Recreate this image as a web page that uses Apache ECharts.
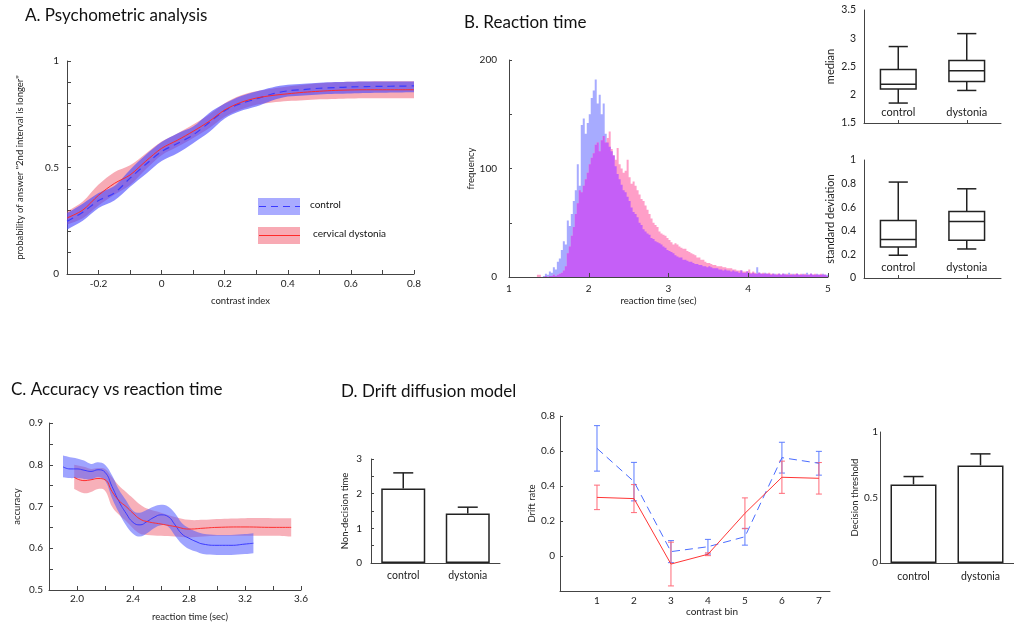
<!DOCTYPE html>
<html><head><meta charset="utf-8">
<script src="https://cdn.jsdelivr.net/npm/echarts@6/dist/echarts.min.js"></script>
<style>html,body{margin:0;padding:0;background:#fff}#c{width:1014px;height:626px}</style>
</head><body><div id="c"></div>
<script>
// ---------- Panel A: psychometric analysis ----------
const psyContrast = [-0.3,-0.25,-0.2,-0.15,-0.1,-0.05,0,0.05,0.1,0.15,0.2,0.25,0.3,0.35,0.4,0.45,0.5,0.55,0.6,0.65,0.7,0.75,0.8];
const psyDystMean = [0.263,0.30,0.37,0.425,0.465,0.53,0.59,0.628,0.67,0.716,0.77,0.805,0.826,0.838,0.846,0.853,0.858,0.862,0.864,0.865,0.865,0.865,0.865];
const psyDystLo   = [0.232,0.262,0.322,0.372,0.418,0.492,0.558,0.597,0.638,0.684,0.738,0.772,0.795,0.805,0.812,0.816,0.82,0.822,0.824,0.825,0.825,0.825,0.825];
const psyDystHi   = [0.292,0.34,0.42,0.478,0.51,0.566,0.622,0.66,0.702,0.748,0.802,0.838,0.858,0.87,0.88,0.888,0.895,0.9,0.903,0.904,0.905,0.905,0.905];
const psyCtrlMean = [0.247,0.29,0.345,0.38,0.45,0.515,0.575,0.613,0.653,0.71,0.767,0.80,0.822,0.845,0.86,0.866,0.872,0.875,0.878,0.88,0.881,0.882,0.883];
const psyCtrlLo   = [0.208,0.25,0.31,0.345,0.41,0.47,0.53,0.567,0.614,0.665,0.73,0.765,0.786,0.815,0.833,0.838,0.843,0.846,0.848,0.85,0.851,0.852,0.853];
const psyCtrlHi   = [0.286,0.33,0.38,0.413,0.49,0.56,0.62,0.66,0.692,0.755,0.80,0.835,0.857,0.876,0.888,0.893,0.898,0.901,0.903,0.904,0.904,0.904,0.904];

// ---------- Panel B: reaction time histogram (bins of 0.025 s from 1.3 s) ----------
const rtBinStart = 1.3;
const rtBinWidth = 0.025;
const rtControl = [0,0,0,0,0,1,3,2,5,4, 9,7,14,17,25,33,30,52,47,58, 70,80,104,84,140,146,132,142,150,165,
  172,182,160,168,150,160,132,124,120,116, 112,102,95,90,85,80,78,74,70,64, 60,58,55,50,48,44,42,40,39,36,
  35,33,32,31,30,28,27,25,24,23, 22,20,19,18,18,16,16,15,14,14, 13,12,12,11,11,10,10,9,10,9,
  8,8,8,7,7,6,7,6,6,5, 6,5,5,4,6,4,4,5,4,3, 4,3,9,4,3,3,4,3,3,2, 3,3,2,3,2,3,3,2,4,2, 3,2,3,2,2,3,2,4,2,3, 2,2,3,2,2,3,2,2];
const rtDystonia = [0,0,2,2,0,0,1,0,1,1, 2,1,2,3,4,6,10,22,28,38, 46,58,68,80,78,84,90,96,104,110,
  114,122,124,116,126,130,124,128,134,118, 112,108,119,104,100,96,98,108,92,86, 88,84,80,76,72,70,66,62,58,54,
  50,48,46,42,40,39,38,36,34,32, 30,31,30,28,27,26,26,24,23,22, 21,20,18,18,16,16,14,13,13,12,
  11,11,10,10,10,9,9,8,8,8, 7,7,6,6,6,5,5,5,7,4, 5,4,3,4,3,4,3,3,4,3, 3,2,3,3,2,3,2,3,2,3, 2,3,3,2,3,2,3,2,2,3, 2,3,2,2,3,2,2,1];

// box plots: [lower whisker, Q1, median, Q3, upper whisker]
const boxGroups = ['control','dystonia'];
const medianCtrl = [1.853, 2.10, 2.188, 2.447, 2.853];
const medianDyst = [2.076, 2.235, 2.424, 2.606, 3.082];
const sdCtrl = [0.193, 0.263, 0.326, 0.487, 0.813];
const sdDyst = [0.246, 0.32, 0.479, 0.564, 0.756];

// ---------- Panel C: accuracy vs reaction time ----------
const accCtrlRT  = [1.90,1.95,2.00,2.05,2.10,2.15,2.20,2.25,2.30,2.35,2.40,2.45,2.50,2.55,2.60,2.65,2.70,2.75,2.80,2.85,2.90,3.00,3.10,3.20,3.26];
const accCtrl    = [0.795,0.79,0.79,0.787,0.784,0.788,0.782,0.748,0.712,0.684,0.662,0.656,0.664,0.674,0.680,0.676,0.656,0.634,0.624,0.616,0.610,0.607,0.607,0.610,0.612];
const accCtrlLo  = [0.77,0.768,0.768,0.766,0.765,0.77,0.762,0.72,0.685,0.655,0.635,0.628,0.636,0.648,0.655,0.652,0.63,0.61,0.598,0.592,0.586,0.584,0.584,0.586,0.588];
const accCtrlHi  = [0.822,0.818,0.815,0.81,0.802,0.806,0.80,0.775,0.74,0.715,0.69,0.685,0.692,0.70,0.704,0.70,0.684,0.66,0.648,0.64,0.635,0.632,0.632,0.634,0.636];
const accDystRT  = [1.98,2.05,2.10,2.15,2.20,2.25,2.30,2.35,2.40,2.45,2.50,2.60,2.70,2.80,2.90,3.00,3.20,3.40,3.53];
const accDyst    = [0.77,0.762,0.764,0.767,0.764,0.736,0.714,0.70,0.684,0.67,0.664,0.658,0.652,0.646,0.648,0.650,0.651,0.650,0.650];
const accDystLo  = [0.742,0.732,0.735,0.742,0.738,0.70,0.68,0.665,0.648,0.635,0.632,0.63,0.628,0.626,0.628,0.63,0.63,0.63,0.628];
const accDystHi  = [0.80,0.795,0.79,0.792,0.79,0.77,0.75,0.735,0.72,0.705,0.695,0.685,0.675,0.668,0.668,0.670,0.672,0.672,0.672];

// ---------- Panel D: drift diffusion model ----------
const ddmGroups = ['control','dystonia'];
const nonDecision = [2.15, 1.43];
const nonDecisionErr = [0.45, 0.18];
const threshold = [0.60, 0.745];
const thresholdErr = [0.06, 0.088];
const contrastBins = [1,2,3,4,5,6,7];
const driftCtrl = [0.615,0.425,0.025,0.053,0.11,0.562,0.53];
const driftCtrlErr = [0.13,0.11,0.063,0.042,0.048,0.088,0.068];
const driftDyst = [0.335,0.328,-0.046,0.01,0.244,0.45,0.444];
const driftDystErr = [0.07,0.08,0.125,0.008,0.088,0.092,0.09];

// ================= rendering =================
const FONT = 'Lato, "Open Sans", sans-serif';
const AX = '#444';
const pairs = (xs, ys) => xs.map((x, i) => [x, ys[i]]);

function axLine(){ return {show:true, onZero:false, lineStyle:{color:AX, width:1}}; }
function axTick(len, show){ return {show: show !== false, inside:true, length:len, lineStyle:{color:AX}}; }
function axLabel(extra){ return Object.assign({color:'#222', fontSize:10, fontFamily:FONT}, extra || {}); }
function nameStyle(extra){ return Object.assign({color:'#222', fontSize:9.5, fontFamily:FONT}, extra || {}); }

function bandRender(xs, lo, hi, color, smooth){
  return function(params, api){
    const top = xs.map((x, i) => api.coord([x, hi[i]]));
    const bot = xs.map((x, i) => api.coord([x, lo[i]]));
    const n = xs.length;
    const pts = [top[0]].concat(top, [top[n-1], bot[n-1]], bot.slice().reverse(), [bot[0]]);
    return {type:'polygon', shape:{points:pts, smooth:smooth}, style:{fill:color}};
  };
}
function bandSeries(xi, xs, lo, hi, color, smooth){
  return {type:'custom', xAxisIndex:xi, yAxisIndex:xi, data:[[xs[0], lo[0]]], renderItem:bandRender(xs, lo, hi, color, smooth),
          silent:true, clip:true};
}

function histRender(values, color){
  return function(params, api){
    const pts = [api.coord([rtBinStart, 0])];
    values.forEach((v, i) => {
      const x0 = rtBinStart + i * rtBinWidth;
      pts.push(api.coord([x0, v]));
      pts.push(api.coord([x0 + rtBinWidth, v]));
    });
    pts.push(api.coord([rtBinStart + values.length * rtBinWidth, 0]));
    return {type:'polygon', shape:{points:pts}, style:{fill:color}};
  };
}

function boxRender(params, api){
  const c = api.value(0);
  const pLo = api.coord([c, api.value(1)]), pQ1 = api.coord([c, api.value(2)]), pMd = api.coord([c, api.value(3)]),
        pQ3 = api.coord([c, api.value(4)]), pHi = api.coord([c, api.value(5)]);
  const w = api.size([1, 0])[0];
  const bw = w * 0.26, cw = w * 0.14, x = pLo[0];
  const st = {stroke:'#222', lineWidth:1.5, fill:null};
  return {type:'group', children:[
    {type:'line', shape:{x1:x, y1:pLo[1], x2:x, y2:pQ1[1]}, style:st},
    {type:'line', shape:{x1:x, y1:pQ3[1], x2:x, y2:pHi[1]}, style:st},
    {type:'line', shape:{x1:x-cw, y1:pLo[1], x2:x+cw, y2:pLo[1]}, style:st},
    {type:'line', shape:{x1:x-cw, y1:pHi[1], x2:x+cw, y2:pHi[1]}, style:st},
    {type:'rect', shape:{x:x-bw, y:pQ3[1], width:2*bw, height:pQ1[1]-pQ3[1]}, style:{stroke:'#222', lineWidth:1.5, fill:'#fff'}},
    {type:'line', shape:{x1:x-bw, y1:pMd[1], x2:x+bw, y2:pMd[1]}, style:st}
  ]};
}

function errRender(color, capHalf, both, lw){
  return function(params, api){
    const x = api.value(0), m = api.value(1), e = api.value(2);
    const top = api.coord([x, m + e]);
    const bot = api.coord([x, both ? m - e : m]);
    const st = {stroke:color, lineWidth:lw};
    const ch = [
      {type:'line', shape:{x1:top[0], y1:top[1], x2:bot[0], y2:bot[1]}, style:st},
      {type:'line', shape:{x1:top[0]-capHalf, y1:top[1], x2:top[0]+capHalf, y2:top[1]}, style:st}
    ];
    if (both) ch.push({type:'line', shape:{x1:bot[0]-capHalf, y1:bot[1], x2:bot[0]+capHalf, y2:bot[1]}, style:st});
    return {type:'group', children:ch};
  };
}

const isMult = (v, step) => Math.abs(v / step - Math.round(v / step)) < 1e-6;

const grids = [
  {left:67, top:61, width:347, height:213},   // 0 A
  {left:509, top:60, width:319, height:217},  // 1 hist
  {left:864, top:10, width:137, height:113},  // 2 median box
  {left:864, top:160, width:137, height:118}, // 3 sd box
  {left:49, top:423, width:252, height:167},  // 4 C
  {left:371, top:459, width:129, height:104}, // 5 non-decision
  {left:560, top:416, width:270, height:175}, // 6 drift rate
  {left:880, top:432, width:140, height:131}  // 7 threshold
];

const xAxes = [
  {gridIndex:0, type:'value', min:-0.3, max:0.8, interval:0.1, axisLine:axLine(), axisTick:axTick(4), splitLine:{show:false},
   axisLabel:axLabel({margin:5, formatter:v => { const k = Math.round(v*10); return k % 2 === 0 ? String(k/10) : ''; }}),
   name:'contrast index', nameLocation:'middle', nameGap:22, nameTextStyle:nameStyle()},
  {gridIndex:1, type:'value', min:1, max:5, interval:1, axisLine:axLine(), axisTick:axTick(4), splitLine:{show:false}, z:5,
   axisLabel:axLabel({margin:7}),
   name:'reaction time (sec)', nameLocation:'middle', nameGap:19, nameTextStyle:nameStyle({padding:[0,20,0,0]})},
  {gridIndex:2, type:'category', data:boxGroups, axisLine:axLine(), axisTick:{show:true, inside:true, length:3, alignWithLabel:true, lineStyle:{color:AX}},
   axisLabel:axLabel({inside:true, margin:5, fontSize:11})},
  {gridIndex:3, type:'category', data:boxGroups, axisLine:axLine(), axisTick:{show:true, inside:true, length:3, alignWithLabel:true, lineStyle:{color:AX}},
   axisLabel:axLabel({inside:true, margin:5, fontSize:11})},
  {gridIndex:4, type:'value', min:1.8, max:3.6, interval:0.2, axisLine:axLine(), axisTick:axTick(4), splitLine:{show:false},
   axisLabel:axLabel({margin:4, formatter:v => { const k = Math.round(v*10); return (k-20) % 4 === 0 ? (k/10).toFixed(1) : ''; }}),
   name:'reaction time (sec)', nameLocation:'middle', nameGap:22, nameTextStyle:nameStyle({padding:[0,0,0,30]})},
  {gridIndex:5, type:'category', data:ddmGroups, axisLine:axLine(), axisTick:{show:false}, axisLabel:axLabel({margin:7, fontSize:10.5})},
  {gridIndex:6, type:'value', min:0, max:7.3, interval:1, axisLine:axLine(), axisTick:{show:false}, splitLine:{show:false},
   axisLabel:axLabel({margin:5, formatter:v => (v >= 1 && v <= 7 && isMult(v, 1)) ? String(Math.round(v)) : ''}),
   name:'contrast bin', nameLocation:'middle', nameGap:15, nameTextStyle:nameStyle({fontSize:10, padding:[0,0,0,34]})},
  {gridIndex:7, type:'category', data:ddmGroups, axisLine:axLine(), axisTick:{show:false}, axisLabel:axLabel({margin:8, fontSize:10.5})}
];

const yAxes = [
  {gridIndex:0, type:'value', min:0, max:1, interval:0.1, axisLine:axLine(), axisTick:axTick(4), splitLine:{show:false},
   axisLabel:axLabel({margin:8, formatter:v => { const k = Math.round(v*10); return k % 5 === 0 ? String(k/10) : ''; }}),
   name:'probability of answer "2nd interval is longer"', nameLocation:'middle', nameGap:42, nameTextStyle:nameStyle()},
  {gridIndex:1, type:'value', min:0, max:200, interval:50, axisLine:axLine(), axisTick:axTick(3), splitLine:{show:false},
   axisLabel:axLabel({margin:12, formatter:v => v % 100 === 0 ? String(v) : ''}),
   name:'frequency', nameLocation:'middle', nameGap:33, nameTextStyle:nameStyle()},
  {gridIndex:2, type:'value', min:1.5, max:3.5, interval:0.5, axisLine:axLine(), axisTick:{show:false}, splitLine:{show:false},
   axisLabel:axLabel({margin:8, fontSize:10.5}),
   name:'median', nameLocation:'middle', nameGap:28, nameTextStyle:nameStyle({fontSize:11})},
  {gridIndex:3, type:'value', min:0, max:1, interval:0.2, axisLine:axLine(), axisTick:{show:false}, splitLine:{show:false},
   axisLabel:axLabel({margin:8, fontSize:10.5}),
   name:'standard deviation', nameLocation:'middle', nameGap:28, nameTextStyle:nameStyle({fontSize:11})},
  {gridIndex:4, type:'value', min:0.5, max:0.9, interval:0.05, axisLine:axLine(), axisTick:axTick(4), splitLine:{show:false},
   axisLabel:axLabel({margin:6, formatter:v => { const k = Math.round(v*100); return k % 10 === 0 ? (k/100).toFixed(1) : ''; }}),
   name:'accuracy', nameLocation:'middle', nameGap:27, nameTextStyle:nameStyle()},
  {gridIndex:5, type:'value', min:0, max:3, interval:0.5, axisLine:axLine(), axisTick:axTick(3), splitLine:{show:false},
   axisLabel:axLabel({margin:9, formatter:v => isMult(v, 1) ? String(Math.round(v)) : ''}),
   name:'Non-decision time', nameLocation:'middle', nameGap:21, nameTextStyle:nameStyle()},
  {gridIndex:6, type:'value', min:-0.2, max:0.8, interval:0.2, axisLine:axLine(), axisTick:axTick(3), splitLine:{show:false},
   axisLabel:axLabel({margin:5, formatter:v => v < -0.1 ? '' : String(+v.toFixed(1))}),
   name:'Drift rate', nameLocation:'middle', nameGap:19, nameTextStyle:nameStyle()},
  {gridIndex:7, type:'value', min:0, max:1, interval:0.5, axisLine:axLine(), axisTick:{show:false}, splitLine:{show:false},
   axisLabel:axLabel({margin:2}),
   name:'Decision threshold', nameLocation:'middle', nameGap:17, nameTextStyle:nameStyle()}
];

const BLUE_A = 'rgba(70,70,255,0.62)';
const RED_A = 'rgba(238,80,100,0.48)';
const BLUE_C = 'rgba(80,90,255,0.55)';
const RED_C = 'rgba(238,80,100,0.45)';

const overlap = rtControl.map((v, i) => Math.min(v, rtDystonia[i]));

const series = [
  // A
  bandSeries(0, psyContrast, psyDystLo, psyDystHi, RED_A, 0.3),
  bandSeries(0, psyContrast, psyCtrlLo, psyCtrlHi, BLUE_A, 0.3),
  {type:'line', xAxisIndex:0, yAxisIndex:0, data:pairs(psyContrast, psyCtrlMean), symbol:'none', smooth:0.3,
   lineStyle:{color:'#3a3aff', width:1.2, type:[7,5]}},
  {type:'line', xAxisIndex:0, yAxisIndex:0, data:pairs(psyContrast, psyDystMean), symbol:'none', smooth:0.3,
   lineStyle:{color:'#ff2a2a', width:1}},
  // B histogram
  {type:'custom', xAxisIndex:1, yAxisIndex:1, data:[[rtBinStart, 0]], renderItem:histRender(rtControl, '#a7abff'), silent:true},
  {type:'custom', xAxisIndex:1, yAxisIndex:1, data:[[rtBinStart, 0]], renderItem:histRender(rtDystonia, '#ff9fc8'), silent:true},
  {type:'custom', xAxisIndex:1, yAxisIndex:1, data:[[rtBinStart, 0]], renderItem:histRender(overlap, '#c55ff7'), silent:true},
  // B boxes
  {type:'custom', xAxisIndex:2, yAxisIndex:2, encode:{x:0, y:[1,2,3,4,5]}, renderItem:boxRender,
   data:[[0].concat(medianCtrl), [1].concat(medianDyst)]},
  {type:'custom', xAxisIndex:3, yAxisIndex:3, encode:{x:0, y:[1,2,3,4,5]}, renderItem:boxRender,
   data:[[0].concat(sdCtrl), [1].concat(sdDyst)]},
  // C
  bandSeries(4, accDystRT, accDystLo, accDystHi, RED_C, 0.4),
  bandSeries(4, accCtrlRT, accCtrlLo, accCtrlHi, BLUE_C, 0.4),
  {type:'line', xAxisIndex:4, yAxisIndex:4, data:pairs(accCtrlRT, accCtrl), symbol:'none', smooth:0.5,
   lineStyle:{color:'#3b3bff', width:1}},
  {type:'line', xAxisIndex:4, yAxisIndex:4, data:pairs(accDystRT, accDyst), symbol:'none', smooth:0.5,
   lineStyle:{color:'#ff3030', width:1}},
  // D1
  {type:'bar', xAxisIndex:5, yAxisIndex:5, data:nonDecision, barWidth:44,
   itemStyle:{color:'#fff', borderColor:'#222', borderWidth:1.5}},
  {type:'custom', xAxisIndex:5, yAxisIndex:5, encode:{x:0, y:1}, renderItem:errRender('#222', 10, false, 1.5),
   data:nonDecision.map((v, i) => [i, v, nonDecisionErr[i]])},
  // D2
  {type:'custom', xAxisIndex:6, yAxisIndex:6, encode:{x:0, y:1}, renderItem:errRender('#5c7cff', 3, true, 1),
   data:contrastBins.map((b, i) => [b, driftCtrl[i], driftCtrlErr[i]])},
  {type:'custom', xAxisIndex:6, yAxisIndex:6, encode:{x:0, y:1}, renderItem:errRender('#ff6a78', 3, true, 1),
   data:contrastBins.map((b, i) => [b, driftDyst[i], driftDystErr[i]])},
  {type:'line', xAxisIndex:6, yAxisIndex:6, data:pairs(contrastBins, driftCtrl), symbol:'none',
   lineStyle:{color:'#4a6cff', width:1, type:[8,5]}},
  {type:'line', xAxisIndex:6, yAxisIndex:6, data:pairs(contrastBins, driftDyst), symbol:'none',
   lineStyle:{color:'#ff3535', width:1}},
  // D3
  {type:'bar', xAxisIndex:7, yAxisIndex:7, data:threshold, barWidth:46,
   itemStyle:{color:'#fff', borderColor:'#222', borderWidth:1.5}},
  {type:'custom', xAxisIndex:7, yAxisIndex:7, encode:{x:0, y:1}, renderItem:errRender('#222', 10, false, 1.5),
   data:threshold.map((v, i) => [i, v, thresholdErr[i]])}
];

function txt(x, y, s, size, extra){
  return {type:'text', x:x, y:y, silent:true,
    style:Object.assign({text:s, fill:'#111', font:size + 'px ' + FONT, textAlign:'left', textVerticalAlign:'middle'}, extra || {})};
}

const graphic = [
  txt(25, 16, 'A. Psychometric analysis', 17),
  txt(464, 23, 'B. Reaction time', 17),
  txt(11, 390, 'C. Accuracy vs reaction time', 17),
  txt(341, 392, 'D. Drift diffusion model', 17),
  // legend of panel A
  {type:'rect', shape:{x:258, y:198, width:42, height:17}, style:{fill:'#a9abff'}, silent:true},
  {type:'line', shape:{x1:259, y1:206.5, x2:300, y2:206.5}, style:{stroke:'#3a3aff', lineWidth:1.2, lineDash:[7,5]}, silent:true},
  {type:'rect', shape:{x:258, y:227, width:42, height:17}, style:{fill:'#f8aab4'}, silent:true},
  {type:'line', shape:{x1:259, y1:235.5, x2:300, y2:235.5}, style:{stroke:'#ff2a2a', lineWidth:1}, silent:true},
  txt(310, 205, 'control', 10),
  txt(313, 234, 'cervical dystonia', 10)
];

const chart = echarts.init(document.getElementById('c'), null, {renderer:'canvas'});
chart.setOption({
  animation:false,
  backgroundColor:'#fff',
  grid:grids,
  xAxis:xAxes,
  yAxis:yAxes,
  series:series,
  graphic:graphic
});
</script>
</body></html>
